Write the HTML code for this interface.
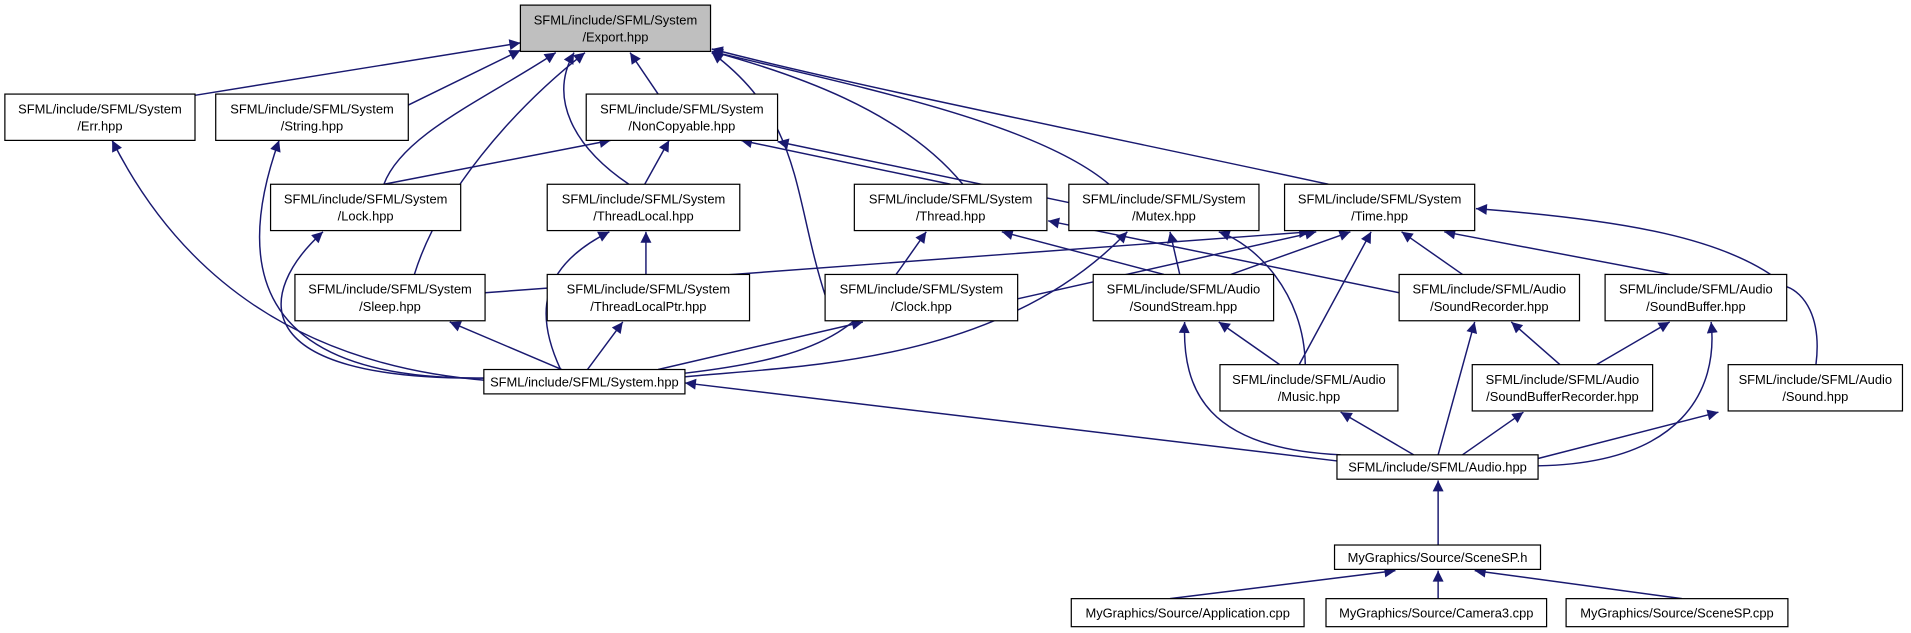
<!DOCTYPE html>
<html><head><meta charset="utf-8"><style>
html,body{margin:0;padding:0;background:#fff;}
svg{display:block;}
text{font-family:"Liberation Sans",Arial,sans-serif;font-size:10.6px;fill:#000;}
</style></head><body>
<svg id="g" width="1911" height="633" viewBox="0 0 1568 519" xmlns="http://www.w3.org/2000/svg">
<defs><marker id="ah" viewBox="0 0 10 10" refX="10" refY="5" markerWidth="11" markerHeight="9" markerUnits="userSpaceOnUse" orient="auto"><path d="M0,0 L10,5 L0,10 z" fill="#191970"/></marker></defs>
<g id="edges"></g><g id="nodes"></g>
</svg>
<script>
const nodeIds=["export","err","string","noncopy","lock","threadlocal","thread","mutex","time","sleep","tlptr","clock","soundstream","soundrec","soundbuf","system","music","sbrec","sound","audio","scenesph","app","camera","scenecpp"];
const nodeLabels=[["SFML/include/SFML/System","/Export.hpp"],["SFML/include/SFML/System","/Err.hpp"],["SFML/include/SFML/System","/String.hpp"],["SFML/include/SFML/System","/NonCopyable.hpp"],["SFML/include/SFML/System","/Lock.hpp"],["SFML/include/SFML/System","/ThreadLocal.hpp"],["SFML/include/SFML/System","/Thread.hpp"],["SFML/include/SFML/System","/Mutex.hpp"],["SFML/include/SFML/System","/Time.hpp"],["SFML/include/SFML/System","/Sleep.hpp"],["SFML/include/SFML/System","/ThreadLocalPtr.hpp"],["SFML/include/SFML/System","/Clock.hpp"],["SFML/include/SFML/Audio","/SoundStream.hpp"],["SFML/include/SFML/Audio","/SoundRecorder.hpp"],["SFML/include/SFML/Audio","/SoundBuffer.hpp"],["SFML/include/SFML/System.hpp"],["SFML/include/SFML/Audio","/Music.hpp"],["SFML/include/SFML/Audio","/SoundBufferRecorder.hpp"],["SFML/include/SFML/Audio","/Sound.hpp"],["SFML/include/SFML/Audio.hpp"],["MyGraphics/Source/SceneSP.h"],["MyGraphics/Source/Application.cpp"],["MyGraphics/Source/Camera3.cpp"],["MyGraphics/Source/SceneSP.cpp"]];
const nodeBoxes=[[427,4,156,38],[4,77,156,38],[177,77,158,38],[481,77,157,38],[222,151,156,38],[449,151,158,38],[701,151,158,38],[877,151,156,38],[1054,151,156,38],[242,225,156,38],[449,225,166,38],[677,225,158,38],[897,225,148,38],[1148,225,148,38],[1317,225,149,38],[397,303,165,20],[1001,299,146,38],[1208,299,148,38],[1418,299,143,38],[1097,373,165,20],[1095,447,169,20],[879,491,191,23],[1088,491,181,23],[1285,491,182,23]];
const edgePaths=[
"M160,78 L427,35","M335,86 L427,41","M540,77 L517,43",
"M315,151 C330,110 400,80 456,43","M516,151 C470,120 450,80 471,43",
"M790,151 C740,90 650,60 584,42","M910,151 C850,100 700,70 584,42","M1090,151 C900,110 700,70 584,40",
"M340,225 C360,160 420,90 480,43","M678,245 C650,160 660,100 584,43",
"M315,151 L501,115","M529,151 L549,115","M780,151 L608,115","M877,166 L638,116",
"M400,312 C250,300 150,230 92,115","M397,310 C200,312 195,210 229,115","M398,310 C200,312 210,240 265,190",
"M461,303 L369,264","M530,225 L530,190","M460,303 C440,260 440,220 500,190","M482,303 L511,264",
"M540,303 L708,264","M562,306 C700,290 710,260 760,190","M562,309 C650,300 820,300 925,190",
"M955,225 L822,190","M968,225 L960,190","M1071,299 C1070,240 1030,200 1000,190",
"M398,240 L1075,190","M835,245 L1080,190","M1010,225 L1108,190","M1066,299 L1125,190",
"M1200,225 L1150,190","M1370,225 L1185,190","M1490,299 C1495,260 1480,240 1466,235 C1420,195 1330,180 1211,171",
"M1148,240 L860,181",
"M1050,299 L1000,264","M1100,373 C990,368 970,320 972,264","M1180,373 L1210,264",
"M1280,299 L1240,264","M1310,299 L1370,264","M1262,382 C1380,380 1410,320 1404,264",
"M1160,373 L1100,338","M1200,373 L1250,338","M1262,376 L1410,338","M1097,378 L562,314",
"M1180,447 L1180,394","M960,491 L1145,468","M1180,491 L1180,468","M1380,491 L1210,468"];
const NS="http://www.w3.org/2000/svg";
const eg=document.getElementById('edges'),ng=document.getElementById('nodes');
edgePaths.forEach((d,i)=>{const p=document.createElementNS(NS,'path');p.setAttribute('d',d);p.setAttribute('fill','none');p.setAttribute('stroke','#191970');p.setAttribute('stroke-width','1.2');p.setAttribute('marker-end','url(#ah)');


eg.appendChild(p);});
nodeIds.forEach((id,i)=>{const [x,y,w,h]=nodeBoxes[i];const g=document.createElementNS(NS,'g');


const r=document.createElementNS(NS,'rect');r.setAttribute('x',x);r.setAttribute('y',y);r.setAttribute('width',w);r.setAttribute('height',h);r.setAttribute('fill',i===0?'#bfbfbf':'#fff');r.setAttribute('stroke','#000');r.setAttribute('stroke-width','1');g.appendChild(r);
const L=nodeLabels[i];L.forEach((s,k)=>{const t=document.createElementNS(NS,'text');t.setAttribute('x',x+w/2);t.setAttribute('text-anchor','middle');const cy=y+h/2+(L.length===1?0:(k===0?-7:7));t.setAttribute('y',cy+3.8);t.textContent=s;


g.appendChild(t);});ng.appendChild(g);});
</script>
</body></html>
